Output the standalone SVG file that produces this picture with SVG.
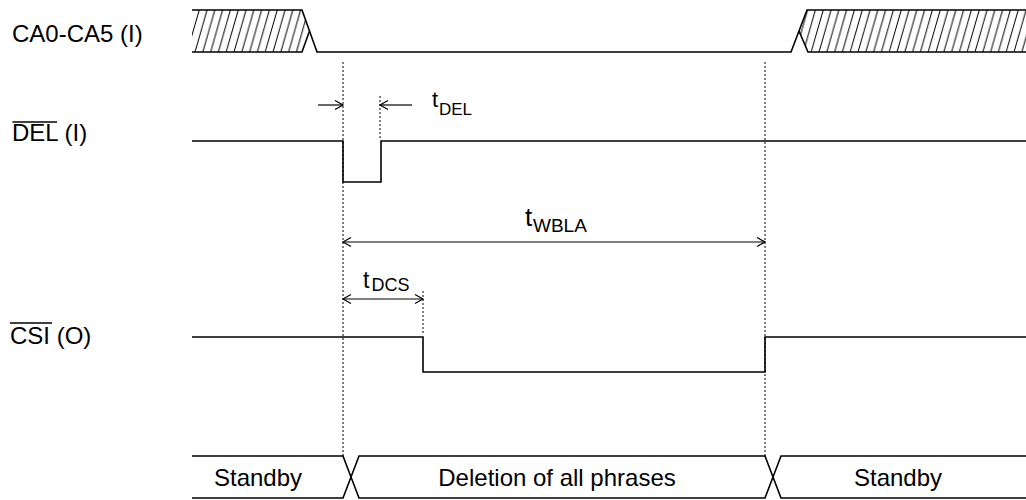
<svg xmlns="http://www.w3.org/2000/svg" width="1026" height="500" viewBox="0 0 1026 500">
<style>
.sig{fill:none;stroke:#000;stroke-width:1.6;stroke-linejoin:miter}
.dot{fill:none;stroke:#000;stroke-width:1;stroke-dasharray:2,2}
.dim{fill:none;stroke:#000;stroke-width:1.2}
.lbl{font-family:"Liberation Sans",Arial,sans-serif;font-size:24px;fill:#000}
.tm{font-family:"Liberation Sans",Arial,sans-serif;fill:#000}
.ov{stroke:#000;stroke-width:1.3}
</style>
<defs>
<pattern id="hatch" patternUnits="userSpaceOnUse" x="0" y="10" width="7.8" height="42">
<path d="M-15.6,42 L-3.6,0 M-7.8,42 L4.2,0 M0,42 L12,0 M7.8,42 L19.8,0" stroke="#000" stroke-width="1" fill="none"/>
</pattern>
<marker id="ah" viewBox="-10 -6 12 12" refX="0" refY="0" markerWidth="12" markerHeight="12" markerUnits="userSpaceOnUse" orient="auto-start-reverse">
<path d="M-8,-4.5 L0,0 L-8,4.5" fill="none" stroke="#000" stroke-width="1.2"/>
</marker>
</defs>

<g id="labels">
<text class="lbl" x="12" y="42">CA0-CA5 (I)</text>
<text class="lbl" x="12" y="141">DEL (I)</text>
<line class="ov" x1="12.5" y1="122" x2="57" y2="122"/>
<text class="lbl" x="10" y="344">CSI (O)</text>
<line class="ov" x1="10" y1="323" x2="52" y2="323"/>
</g>

<g id="ca-bus">
<polygon points="192,10 302,10 309.5,31 302,52 192,52" fill="url(#hatch)"/>
<polygon points="807,10 1026,10 1026,52 808,52 799,31" fill="url(#hatch)"/>
<polyline class="sig" points="192,10 302,10 317,52 791,52 807,10 1026,10"/>
<polyline class="sig" points="192,52 302,52 309.5,31"/>
<polyline class="sig" points="799,31 808,52 1026,52"/>
</g>

<g id="del-signal">
<polyline class="sig" points="192,141 343,141 343,182 381,182 381,141 1026,141"/>
</g>

<g id="csi-signal">
<polyline class="sig" points="192,337 423,337 423,372 765,372 765,337 1026,337"/>
</g>

<g id="state-bus">
<polyline class="sig" points="192,456 343,456 359,498 765,498 781,456 1026,456"/>
<polyline class="sig" points="192,498 343,498 359,456 765,456 781,498 1026,498"/>
<text class="lbl" x="258" y="486" text-anchor="middle">Standby</text>
<text class="lbl" x="557" y="486" text-anchor="middle">Deletion of all phrases</text>
<text class="lbl" x="898" y="486" text-anchor="middle">Standby</text>
</g>

<g id="connectors">
<line class="dot" x1="343" y1="62" x2="343" y2="456"/>
<line class="dot" x1="765" y1="62" x2="765" y2="456"/>
<line class="dot" x1="380" y1="96" x2="380" y2="140"/>
<line class="dot" x1="423" y1="291" x2="423" y2="334"/>
<line class="dim" x1="318" y1="105" x2="343" y2="105" marker-end="url(#ah)"/>
<line class="dim" x1="412" y1="105" x2="380" y2="105" marker-end="url(#ah)"/>
<line class="dim" x1="343" y1="242" x2="765" y2="242" marker-start="url(#ah)" marker-end="url(#ah)"/>
<line class="dim" x1="343" y1="299" x2="423" y2="299" marker-start="url(#ah)" marker-end="url(#ah)"/>
</g>

<g id="timing-labels">
<text class="tm"><tspan x="432" y="107" font-size="22">t</tspan><tspan x="439" y="115" font-size="17">DEL</tspan></text>
<text class="tm"><tspan x="525" y="226" font-size="26">t</tspan><tspan x="533" y="232" font-size="19">WBLA</tspan></text>
<text class="tm"><tspan x="363" y="288" font-size="23">t</tspan><tspan x="371.5" y="291" font-size="18">DCS</tspan></text>
</g>
</svg>
